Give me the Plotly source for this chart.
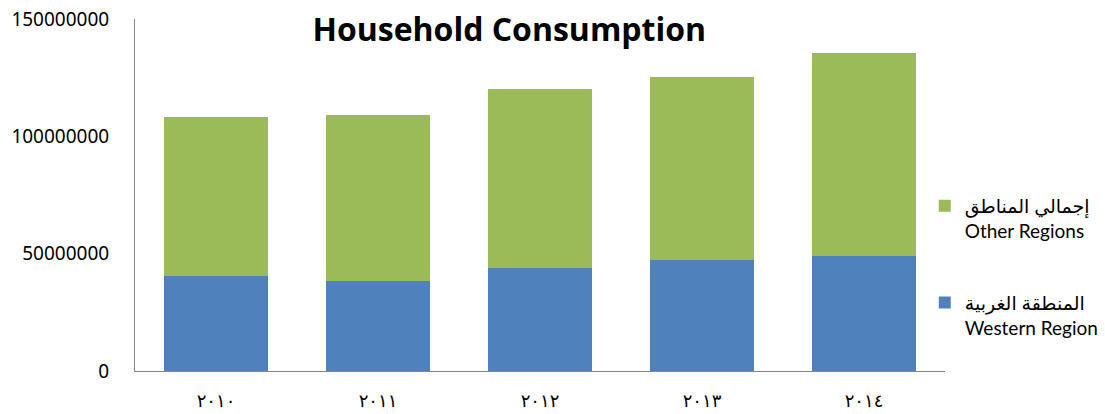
import plotly.graph_objects as go

years = ["٢٠١٠", "٢٠١١", "٢٠١٢", "٢٠١٣", "٢٠١٤"]
western = [40300000, 38300000, 43900000, 47300000, 49100000]
other = [68000000, 70700000, 76100000, 78000000, 86400000]
name_western = "المنطقة الغربية<br>Western Region"
name_other = "إجمالي المناطق<br>Other Regions"
y_ticks = [0, 50000000, 100000000, 150000000]

fig = go.Figure()
fig.add_trace(go.Bar(x=years, y=western, name=name_western,
                     marker=dict(color="#4F81BD", line=dict(width=0)),
                     legend="legend2"))
fig.add_trace(go.Bar(x=years, y=other, name=name_other,
                     marker=dict(color="#9BBB59", line=dict(width=0)),
                     legend="legend"))

legend_font = dict(size=19, family="Lato, DejaVu Sans", color="#000000")
fig.update_layout(
    width=1105, height=414,
    barmode="stack", bargap=0.355,
    plot_bgcolor="white", paper_bgcolor="white",
    margin=dict(l=127, r=168, t=11, b=51, autoexpand=False),
    font=dict(family="Lato, DejaVu Sans", color="#000000"),
    title=dict(text="<b>Household Consumption</b>", x=0.462, xref="paper",
               xanchor="center", y=1 - 22 / 414, yref="container", yanchor="middle",
               font=dict(size=32, family="Open Sans, DejaVu Sans", color="#000000")),
    legend=dict(x=0.975, xanchor="left", y=0.523, yanchor="top",
                valign="top", bgcolor="rgba(0,0,0,0)", font=legend_font),
    legend2=dict(x=0.975, xanchor="left", y=0.248, yanchor="top",
                 valign="top", bgcolor="rgba(0,0,0,0)", font=legend_font),
    showlegend=True,
)
fig.update_yaxes(range=[0, 150000000], tickvals=y_ticks,
                 ticktext=[str(v) for v in y_ticks], automargin=False,
                 ticklabeloverflow="allow",
                 showgrid=False, zeroline=False, showline=True, linecolor="#868686",
                 linewidth=1, ticks="", ticklabelstandoff=21,
                 tickfont=dict(size=19, family="Noto Sans, DejaVu Sans", color="#000000"))
fig.update_xaxes(showgrid=False, showline=True, linecolor="#868686", linewidth=1,
                 ticks="", ticklabelstandoff=13, automargin=False,
                 ticklabeloverflow="allow",
                 tickfont=dict(size=18, family="DejaVu Sans", color="#000000"))

fig.write_html("out.html")
